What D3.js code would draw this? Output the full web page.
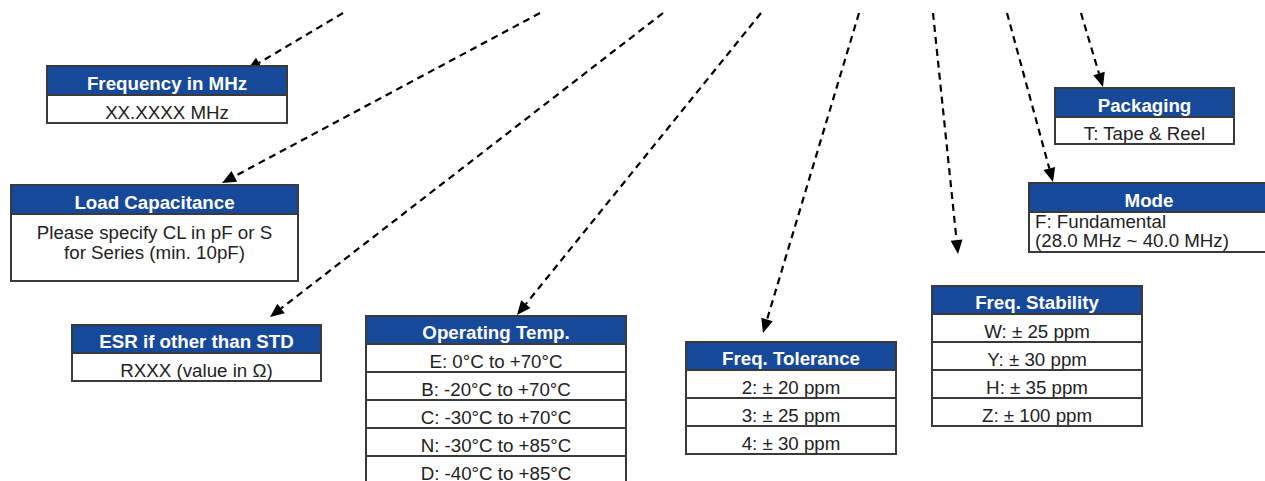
<!DOCTYPE html>
<html>
<head>
<meta charset="utf-8">
<script src="https://cdn.jsdelivr.net/npm/d3@7"></script>
<style>
  html, body { margin: 0; padding: 0; background: #fff; }
  svg { display: block; }
</style>
</head>
<body>
<svg id="chart" width="1265" height="481"></svg>
<script>
// part-number fields, in order of the arrows (left to right at the top)
const titles = [
  "Frequency in MHz",
  "Load Capacitance",
  "ESR if other than STD",
  "Operating Temp.",
  "Freq. Tolerance",
  "Freq. Stability",
  "Mode",
  "Packaging",
];

const frequencyRows = ["XX.XXXX MHz"];
const loadCapRows = [["Please specify CL in pF or S", "for Series (min. 10pF)"]];
const esrRows = ["RXXX (value in \u03A9)"];
const tempRows = [
  "E: 0\u00B0C to +70\u00B0C",
  "B: -20\u00B0C to +70\u00B0C",
  "C: -30\u00B0C to +70\u00B0C",
  "N: -30\u00B0C to +85\u00B0C",
  "D: -40\u00B0C to +85\u00B0C",
];
const toleranceRows = ["2: \u00B1 20 ppm", "3: \u00B1 25 ppm", "4: \u00B1 30 ppm"];
const stabilityRows = ["W: \u00B1 25 ppm", "Y: \u00B1 30 ppm", "H: \u00B1 35 ppm", "Z: \u00B1 100 ppm"];
const modeRows = [["F: Fundamental", "(28.0 MHz ~ 40.0 MHz)"]];
const packagingRows = ["T: Tape & Reel"];

const rowSets = [frequencyRows, loadCapRows, esrRows, tempRows, toleranceRows, stabilityRows, modeRows, packagingRows];

// layout (pixels)
const boxes = [
  { x: 47, y: 66, w: 240, head: 29, row: 28 },
  { x: 11, y: 185, w: 287, head: 29, row: 67, lineGap: 20 },
  { x: 72, y: 325, w: 249, head: 28, row: 28 },
  { x: 366, y: 316, w: 260, head: 28, row: 28 },
  { x: 686, y: 342, w: 210, head: 28, row: 28 },
  { x: 932, y: 286, w: 210, head: 28, row: 28 },
  { x: 1029, y: 183, w: 240, head: 29, row: 40, lineGap: 19, left: 6 },
  { x: 1055, y: 88, w: 179, head: 29, row: 27 },
];

const arrows = [
  [[343, 13], [247, 70]],
  [[540, 13], [222, 183]],
  [[663, 13], [270, 317]],
  [[761, 13], [517, 315]],
  [[859, 13], [763, 333]],
  [[933, 13], [958, 254]],
  [[1007, 13], [1053, 182]],
  [[1081, 13], [1103, 87]],
];

const blue = "#17499b";
const edge = "#3a3a3a";
const ink = "#222222";
const font = "'Liberation Sans', Arial, sans-serif";
const fontSize = 17.5;
const stretch = 1.07; // the source glyphs are a little wider than Arial

const svg = d3.select("#chart");

// dashed leader lines with filled arrowheads
const headLen = 14;
const headHalf = 6;
const arrowG = svg.append("g");
arrows.forEach(([a, b]) => {
  const dx = b[0] - a[0];
  const dy = b[1] - a[1];
  const len = Math.hypot(dx, dy);
  const ux = dx / len;
  const uy = dy / len;
  const base = [b[0] - ux * headLen, b[1] - uy * headLen];
  arrowG.append("path")
    .attr("d", d3.line()([a, base]))
    .attr("stroke", "#000")
    .attr("stroke-width", 2.2)
    .attr("stroke-dasharray", "7,5")
    .attr("fill", "none");
  arrowG.append("path")
    .attr("d", d3.line()([
      b,
      [base[0] - uy * headHalf, base[1] + ux * headHalf],
      [base[0] + uy * headHalf, base[1] - ux * headHalf],
    ]) + "Z")
    .attr("fill", "#000");
});

// boxes
const boxG = svg.append("g")
  .selectAll("g")
  .data(boxes.map((b, i) => ({ ...b, title: titles[i], rows: rowSets[i] })))
  .join("g");

boxG.each(function (d) {
  const g = d3.select(this);
  const total = d.head + d.rows.length * d.row;
  const anchorX = d.left ? d.x + d.left : d.x + d.w / 2;

  g.append("rect")
    .attr("x", d.x).attr("y", d.y)
    .attr("width", d.w).attr("height", total)
    .attr("fill", "#fff");

  g.append("rect")
    .attr("x", d.x).attr("y", d.y)
    .attr("width", d.w).attr("height", d.head)
    .attr("fill", blue);

  g.append("text")
    .attr("transform", `translate(${d.x + d.w / 2},0) scale(${stretch},1)`)
    .attr("x", 0)
    .attr("y", d.y + d.head - 5)
    .attr("text-anchor", "middle")
    .attr("font-family", font)
    .attr("font-weight", "bold")
    .attr("font-size", fontSize)
    .attr("fill", "#fff")
    .text(d.title);

  d.rows.forEach((r, j) => {
    const top = d.y + d.head + j * d.row;
    g.append("line")
      .attr("x1", d.x).attr("x2", d.x + d.w)
      .attr("y1", top).attr("y2", top)
      .attr("stroke", edge).attr("stroke-width", 2);
    const lines = Array.isArray(r) ? r : [r];
    const t = g.append("text")
      .attr("transform", `translate(${anchorX},0) scale(${stretch},1)`)
      .attr("font-family", font)
      .attr("font-size", fontSize)
      .attr("fill", ink)
      .attr("text-anchor", d.left ? "start" : "middle");
    lines.forEach((s, k) => {
      t.append("tspan")
        .attr("x", 0)
        .attr("y", lines.length > 1
          ? top + 25 + k * d.lineGap - (d.left ? 9 : 0)
          : top + d.row - 4)
        .text(s);
    });
  });

  g.append("rect")
    .attr("x", d.x).attr("y", d.y)
    .attr("width", d.w).attr("height", total)
    .attr("fill", "none")
    .attr("stroke", edge)
    .attr("stroke-width", 2);
});
</script>
</body>
</html>
